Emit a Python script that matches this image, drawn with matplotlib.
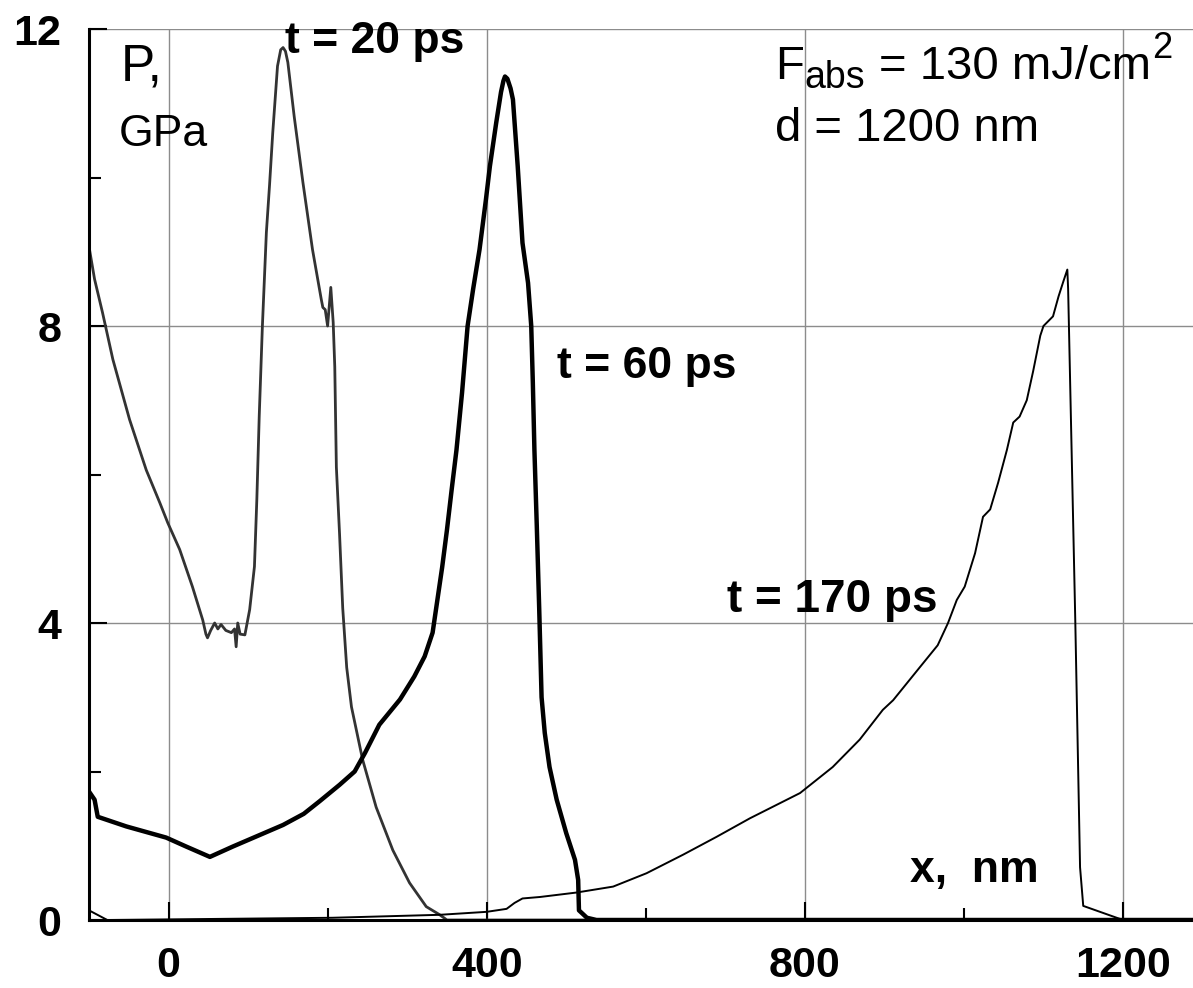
import matplotlib
matplotlib.use("Agg")
import matplotlib.pyplot as plt
from matplotlib.ticker import MultipleLocator

plt.rcParams['font.family'] = ['Liberation Sans', 'DejaVu Sans']

# t = 20 ps
t20_x = [-100, -93, -83, -70, -49, -28, -11, -1, 14, 30, 43, 47, 49, 53, 58, 62, 66, 72, 79,
         83, 85, 87, 90, 96, 102, 108, 111, 114, 118, 123, 127, 131, 137, 141, 144, 147, 150,
         158, 169, 181, 192, 194, 197, 200, 204, 207, 209, 211, 215, 219, 224, 230, 244, 261,
         282, 303, 324, 341, 350, 540]
t20_y = [9.07, 8.63, 8.18, 7.55, 6.74, 6.06, 5.62, 5.35, 4.99, 4.49, 4.04, 3.85, 3.80, 3.90,
         4.00, 3.92, 3.98, 3.90, 3.87, 3.92, 3.68, 4.00, 3.85, 3.84, 4.18, 4.76, 5.66, 6.78,
         8.00, 9.26, 9.90, 10.6, 11.5, 11.72, 11.75, 11.70, 11.55, 10.82, 9.93, 9.03, 8.36,
         8.25, 8.22, 8.00, 8.52, 8.05, 7.45, 6.10, 5.20, 4.20, 3.40, 2.87, 2.16, 1.52, 0.94,
         0.50, 0.18, 0.07, 0.0, 0.0]

# t = 60 ps
t60_x = [-100, -93, -89, -53, -3, 22, 52, 81, 144, 170, 190, 215, 234, 247, 265, 291, 309,
         322, 332, 338, 344, 350, 356, 362, 369, 376, 383, 391, 399, 404, 412, 418, 421, 423,
         426, 430, 433, 439, 445, 452, 456, 458, 460, 463, 466, 469, 473, 479, 488, 500, 511,
         515, 516, 526, 538, 1288]
t60_y = [1.73, 1.62, 1.39, 1.26, 1.11, 0.99, 0.85, 0.99, 1.28, 1.43, 1.60, 1.82, 2.00, 2.25,
         2.63, 2.97, 3.28, 3.55, 3.87, 4.31, 4.75, 5.25, 5.80, 6.33, 7.10, 8.00, 8.50, 9.03,
         9.70, 10.15, 10.74, 11.15, 11.30, 11.36, 11.33, 11.20, 11.05, 10.15, 9.12, 8.58,
         8.00, 7.24, 6.33, 5.30, 4.20, 3.00, 2.52, 2.06, 1.62, 1.17, 0.81, 0.54, 0.13, 0.03,
         0.0, 0.0]

# t = 170 ps
t170_x = [-100, -77, 206, 341, 400, 425, 435, 445, 467, 513, 559, 601, 647, 689, 731, 794,
          835, 869, 898, 911, 945, 967, 980, 991, 1001, 1014, 1024, 1033, 1043, 1054, 1062,
          1070, 1079, 1087, 1096, 1100, 1112, 1119, 1125, 1130, 1131, 1140, 1146, 1150, 1200]
t170_y = [0.13, 0.0, 0.03, 0.07, 0.11, 0.15, 0.23, 0.29, 0.31, 0.37, 0.45, 0.63, 0.88, 1.12,
          1.37, 1.71, 2.06, 2.43, 2.83, 2.96, 3.41, 3.70, 4.00, 4.31, 4.49, 4.94, 5.43, 5.53,
          5.89, 6.33, 6.70, 6.78, 7.00, 7.39, 7.87, 8.00, 8.13, 8.40, 8.60, 8.76, 8.50, 4.03,
          0.71, 0.19, 0.0]

x_ticks = [0, 400, 800, 1200]
y_ticks = [0, 4, 8, 12]

W, H = 1193, 988
fig = plt.figure(figsize=(W / 100, H / 100), dpi=100)
ax = fig.add_axes([89 / W, (H - 920) / H, (W - 89) / W, (920 - 29) / H])

ax.set_xlim(-100, 1288)
ax.set_ylim(0, 12)

ax.grid(True, which='major', color='#8c8c8c', linewidth=1.0, zorder=0)
ax.set_axisbelow(True)

ax.plot(t20_x, t20_y, color='#333333', linewidth=2.0, zorder=3)
ax.plot(t60_x, t60_y, color='black', linewidth=3.2, zorder=4)
ax.plot(t170_x, t170_y, color='black', linewidth=1.4, zorder=5)

for s in ['top', 'right']:
    ax.spines[s].set_visible(False)
for s in ['left', 'bottom']:
    ax.spines[s].set_linewidth(2.2)
    ax.spines[s].set_zorder(6)

ax.set_xticks(x_ticks)
ax.set_yticks(y_ticks)
ax.xaxis.set_minor_locator(MultipleLocator(200))
ax.yaxis.set_minor_locator(MultipleLocator(2))
ax.tick_params(which='major', direction='in', length=13, width=1.5, labelsize=31)
ax.tick_params(axis='x', which='major', pad=19)
ax.tick_params(axis='y', which='major', pad=20)
ax.tick_params(which='minor', direction='in', length=8.5, width=1.5)
for lab in ax.get_xticklabels() + ax.get_yticklabels():
    lab.set_fontweight('bold')

ax.text(146, 11.68, 't = 20 ps', fontsize=32, fontweight='bold', ha='left', va='baseline')
ax.text(488, 7.30, 't = 60 ps', fontsize=32, fontweight='bold', ha='left', va='baseline')
ax.text(702, 4.15, 't = 170 ps', fontsize=33, fontweight='bold', ha='left', va='baseline')
ax.text(932, 0.51, 'x,  nm', fontsize=32, fontweight='bold', ha='left', va='baseline')
ax.text(-60, 11.30, 'P,', fontsize=37, ha='left', va='baseline')
ax.text(-62, 10.42, 'GPa', fontsize=32, ha='left', va='baseline')

# F_abs = 130 mJ/cm^2 built from pieces
ax.text(763, 11.32, 'F', fontsize=34, ha='left', va='baseline')
ax.text(800, 11.20, 'abs', fontsize=27, ha='left', va='baseline')
ax.text(893, 11.32, '= 130 mJ/cm', fontsize=34, ha='left', va='baseline')
ax.text(1236, 11.61, '2', fontsize=26, ha='left', va='baseline')
ax.text(763, 10.49, 'd = 1200 nm', fontsize=34, ha='left', va='baseline')

fig.savefig('out.png', dpi=100)
